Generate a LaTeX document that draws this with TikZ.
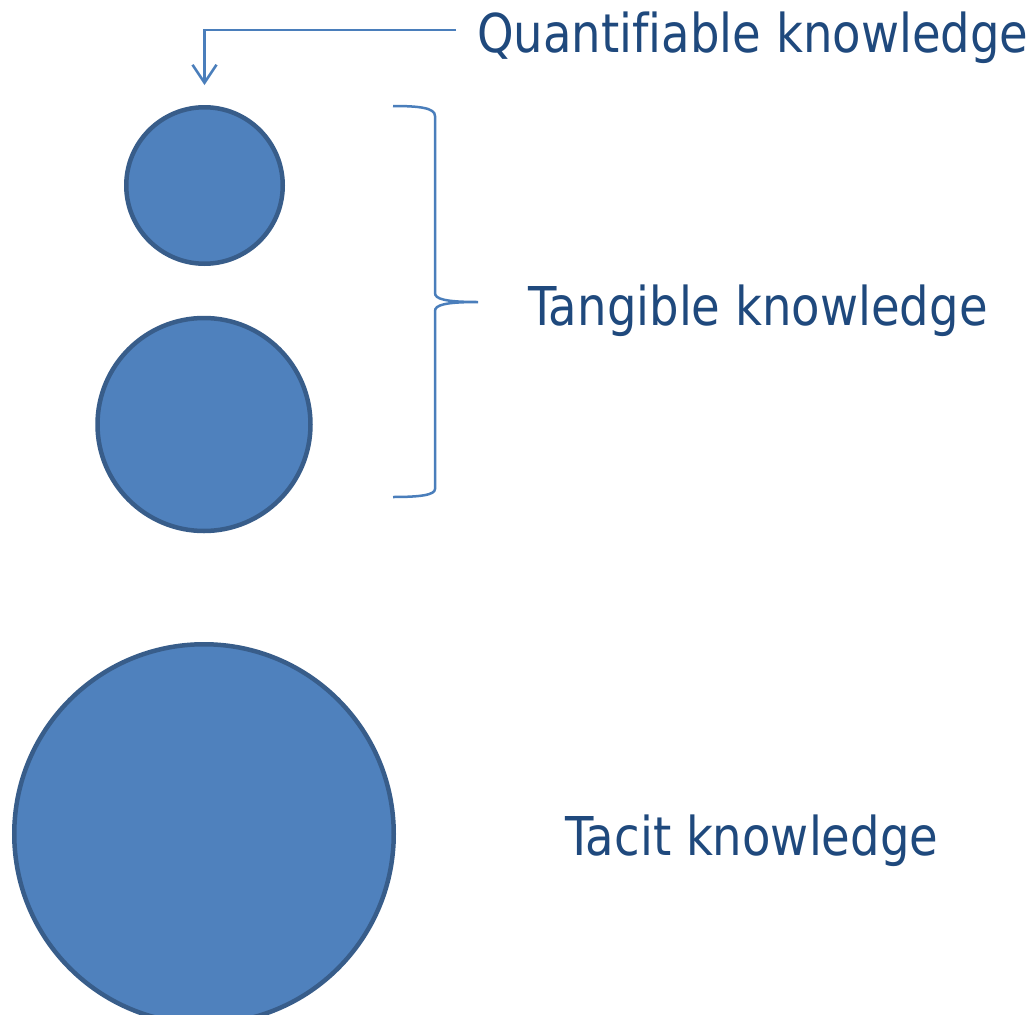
\documentclass[tikz,border=0pt]{standalone}
\usepackage{fontspec}
\setmainfont{DejaVu Sans}[FakeStretch=0.87, Ligatures=NoCommon]
\usetikzlibrary{arrows.meta, positioning}
\definecolor{blobfill}{HTML}{4F81BD}
\definecolor{blobline}{HTML}{385D8A}
\definecolor{linkcol}{HTML}{4A7EBB}
\definecolor{labelcol}{HTML}{1F497D}

\begin{document}
\begin{tikzpicture}[x=1pt, y=-1pt,
    blob/.style={circle, fill=blobfill, draw=blobline, line width=4.5pt, inner sep=0pt},
    label text/.style={text=labelcol, font=\fontsize{53.5}{60}\selectfont, inner sep=0pt, anchor=base west},
    link/.style={draw=linkcol, line width=2.5pt}]
    \useasboundingbox (0,0) rectangle (1029,1015);
    \node[blob, minimum size=156.5pt] (small) at (204.5,185.5) {};
    \node[blob, minimum size=213pt] (mid) at (204,424.5) {};
    \node[blob, minimum size=379.5pt] (big) at (204,834) {};
    \node[label text] (quant) at (477,52) {Quantifiable knowledge};
    \node[label text] (tang) at (528,325) {Tangible knowledge};
    \node[label text] (tacit) at (565,855) {Tacit knowledge};
    \draw[link, -{Straight Barb[length=18pt, width=24pt, line width=2.5pt]}]
      ([xshift=-21pt, yshift=22pt]quant.base west) -| ([yshift=20pt]small.north);
    \coordinate (btip) at (478,302);
    \path[link] (393,106) .. controls (420,106) and (435,108) .. (435,116) -- (435,293)
      .. controls (435,299) and (445,302) .. (btip)
      .. controls (445,302) and (435,305) .. (435,311) -- (435,489)
      .. controls (435,495) and (420,497) .. (393,497);
  \end{tikzpicture}
\end{document}
